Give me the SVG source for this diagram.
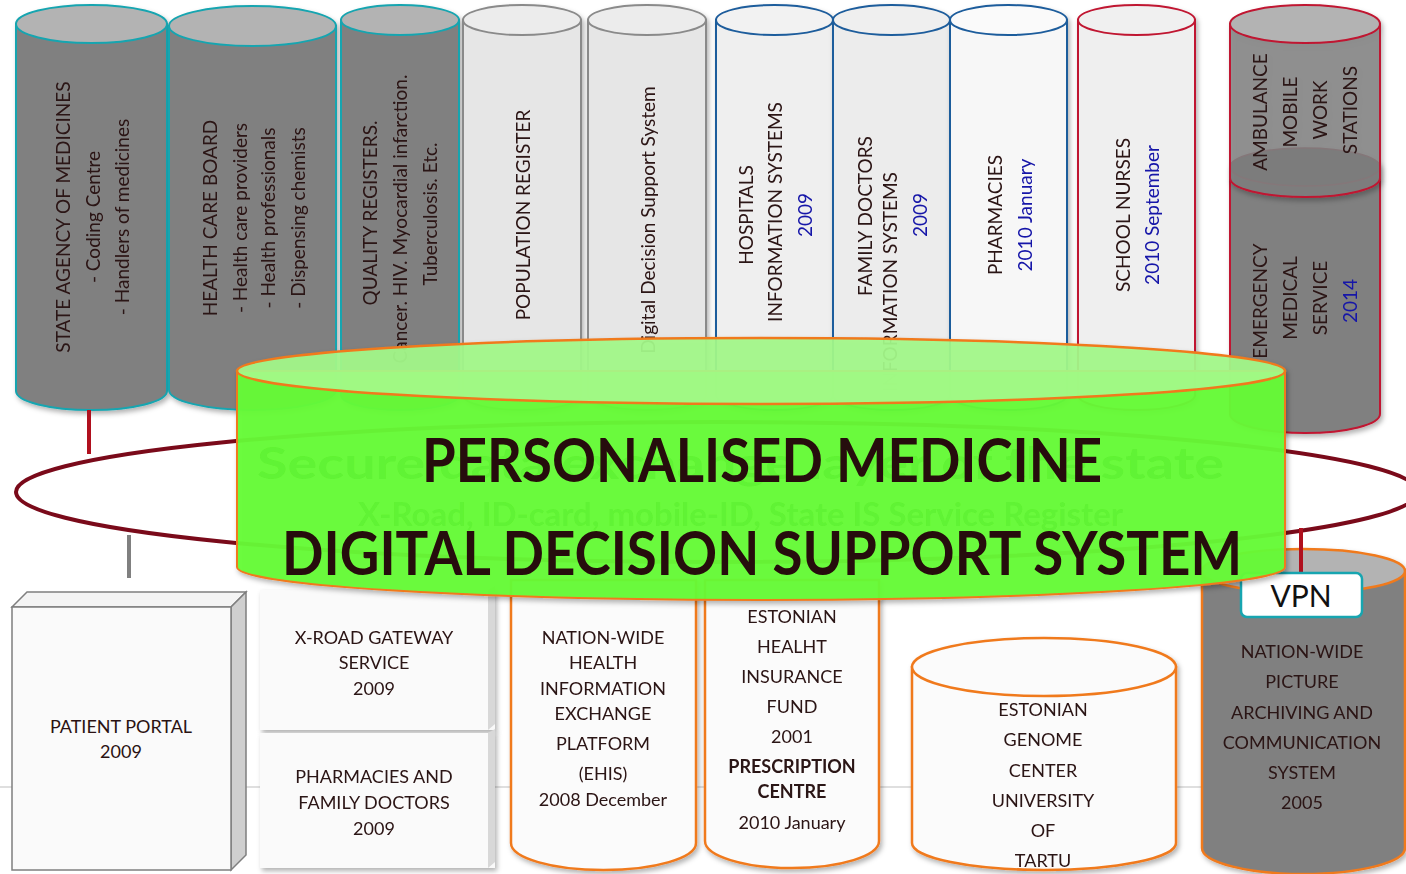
<svg xmlns="http://www.w3.org/2000/svg" width="1406" height="874" viewBox="0 0 1406 874">
<style>
text{font-family:Lato,"Open Sans","Liberation Sans",sans-serif;fill:#2a1212}
.v{font-size:19px;text-anchor:middle}
.b{font-size:18px;text-anchor:middle}
.blue{fill:#1414a8}
.dk{fill:#808080}
.dkt{fill:#b3b3b3}
.teal{stroke:#17a5b0;stroke-width:2}
.gry{stroke:#8a8a8a;stroke-width:2}
.blu{stroke:#1f5d9c;stroke-width:2}
.red{stroke:#c01630;stroke-width:2}
.org{stroke:#f07a1e;stroke-width:2.5}
.title{font-size:62px;font-weight:bold;text-anchor:middle;fill:#260c08}
.faint{font-weight:bold;fill:#60f334}
</style>
<defs>
<filter id="sh" x="-10%" y="-10%" width="120%" height="120%"><feDropShadow dx="2" dy="3" stdDeviation="2.5" flood-color="#000" flood-opacity="0.3"/></filter>
</defs>
<rect width="1406" height="874" fill="#fff"/>
<line x1="0" y1="787" x2="1406" y2="787" stroke="#d4d4d4" stroke-width="1.5"/>

<!-- top cylinders -->
<g id="state-agency" filter="url(#sh)">
<path class="dk teal" d="M16,24 L16,391 A75.5,19 0 0 0 167,391 L167,24 Z"/>
<ellipse class="dkt teal" cx="91.5" cy="24" rx="75.5" ry="19"/>
<text class="v" transform="translate(63,217) rotate(-90)" dy=".35em">STATE AGENCY OF MEDICINES</text>
<text class="v" transform="translate(93,217) rotate(-90)" dy=".35em">- Coding Centre</text>
<text class="v" transform="translate(122,217) rotate(-90)" dy=".35em">- Handlers of medicines</text>
</g>
<g id="health-care-board" filter="url(#sh)">
<path class="dk teal" d="M169,26 L169,390 A83.5,20 0 0 0 336,390 L336,26 Z"/>
<ellipse class="dkt teal" cx="252.5" cy="26" rx="83.5" ry="20"/>
<text class="v" transform="translate(210,218) rotate(-90)" dy=".35em">HEALTH CARE BOARD</text>
<text class="v" transform="translate(240,218) rotate(-90)" dy=".35em">- Health care providers</text>
<text class="v" transform="translate(268,218) rotate(-90)" dy=".35em">- Health professionals</text>
<text class="v" transform="translate(298,218) rotate(-90)" dy=".35em">- Dispensing chemists</text>
</g>
<g id="quality-registers" filter="url(#sh)">
<path class="dk teal" d="M341,20 L341,395 A59,15 0 0 0 459,395 L459,20 Z"/>
<ellipse class="dkt teal" cx="400" cy="20" rx="59" ry="15"/>
<text class="v" transform="translate(370,213) rotate(-90)" dy=".35em">QUALITY REGISTERS.</text>
<text class="v" transform="translate(400,219) rotate(-90)" dy=".35em">Cancer. HIV. Myocardial infarction.</text>
<text class="v" transform="translate(430,214) rotate(-90)" dy=".35em">Tuberculosis. Etc.</text>
</g>
<g id="population-register" filter="url(#sh)">
<path fill="#e6e6e6" class="gry" d="M463,20 L463,395 A59,15 0 0 0 581,395 L581,20 Z"/>
<ellipse fill="#ececec" class="gry" cx="522" cy="20" rx="59" ry="15"/>
<text class="v" transform="translate(523,215) rotate(-90)" dy=".35em">POPULATION REGISTER</text>
</g>
<g id="digital-dss" filter="url(#sh)">
<path fill="#e6e6e6" class="gry" d="M588,20 L588,395 A59,15 0 0 0 706,395 L706,20 Z"/>
<ellipse fill="#ececec" class="gry" cx="647" cy="20" rx="59" ry="15"/>
<text class="v" transform="translate(648,220) rotate(-90)" dy=".35em">Digital Decision Support System</text>
</g>
<g id="hospitals" filter="url(#sh)">
<path fill="#efefef" class="blu" d="M716,20 L716,395 A58.5,15 0 0 0 833,395 L833,20 Z"/>
<ellipse fill="#f2f2f2" class="blu" cx="774.5" cy="20" rx="58.5" ry="15"/>
<text class="v" transform="translate(746,215) rotate(-90)" dy=".35em">HOSPITALS</text>
<text class="v" transform="translate(775,212) rotate(-90)" dy=".35em">INFORMATION SYSTEMS</text>
<text class="v blue" transform="translate(805,215) rotate(-90)" dy=".35em">2009</text>
</g>
<g id="family-doctors" filter="url(#sh)">
<path fill="#ececec" class="blu" d="M833,20 L833,395 A58.5,15 0 0 0 950,395 L950,20 Z"/>
<ellipse fill="#efefef" class="blu" cx="891.5" cy="20" rx="58.5" ry="15"/>
<text class="v" transform="translate(865,216) rotate(-90)" dy=".35em">FAMILY DOCTORS</text>
<text class="v" transform="translate(890,282) rotate(-90)" dy=".35em">INFORMATION SYSTEMS</text>
<text class="v blue" transform="translate(920,215) rotate(-90)" dy=".35em">2009</text>
</g>
<g id="pharmacies" filter="url(#sh)">
<path fill="#f7f7f7" class="blu" d="M950,20 L950,395 A58.5,15 0 0 0 1067,395 L1067,20 Z"/>
<ellipse fill="#fafafa" class="blu" cx="1008.5" cy="20" rx="58.5" ry="15"/>
<text class="v" transform="translate(995,215) rotate(-90)" dy=".35em">PHARMACIES</text>
<text class="v blue" transform="translate(1025,215) rotate(-90)" dy=".35em">2010 January</text>
</g>
<g id="school-nurses" filter="url(#sh)">
<path fill="#efefef" class="red" d="M1078,20 L1078,395 A58.5,15 0 0 0 1195,395 L1195,20 Z"/>
<ellipse fill="#f0f0f0" class="red" cx="1136.5" cy="20" rx="58.5" ry="15"/>
<text class="v" transform="translate(1123,215) rotate(-90)" dy=".35em">SCHOOL NURSES</text>
<text class="v blue" transform="translate(1152,215) rotate(-90)" dy=".35em">2010 September</text>
</g>
<g id="emergency" filter="url(#sh)">
<path class="dk red" d="M1230,167 L1230,414 A75,19 0 0 0 1380,414 L1380,167 Z"/>
<ellipse fill="#747474" stroke="#b05060" stroke-width="1.5" cx="1305" cy="167" rx="75" ry="19"/>
<text class="v" transform="translate(1260,301) rotate(-90)" dy=".35em">EMERGENCY</text>
<text class="v" transform="translate(1290,298) rotate(-90)" dy=".35em">MEDICAL</text>
<text class="v" transform="translate(1320,298) rotate(-90)" dy=".35em">SERVICE</text>
<text class="v blue" transform="translate(1350,301) rotate(-90)" dy=".35em">2014</text>
</g>
<g id="ambulance" filter="url(#sh)">
<path class="dk red" fill-opacity="0.82" d="M1230,24 L1230,178 A75,19 0 0 0 1380,178 L1380,24 Z"/>
<ellipse class="dkt red" cx="1305" cy="24" rx="75" ry="19"/>
<text class="v" transform="translate(1260,112) rotate(-90)" dy=".35em">AMBULANCE</text>
<text class="v" transform="translate(1290,112) rotate(-90)" dy=".35em">MOBILE</text>
<text class="v" transform="translate(1320,110) rotate(-90)" dy=".35em">WORK</text>
<text class="v" transform="translate(1350,110) rotate(-90)" dy=".35em">STATIONS</text>
</g>

<!-- connectors -->
<g id="connectors" fill="none">
<line x1="89" y1="410" x2="89" y2="454" stroke="#b0101e" stroke-width="4"/>
<line x1="129" y1="535" x2="129" y2="578" stroke="#808080" stroke-width="4"/>
<ellipse cx="717" cy="492" rx="701" ry="70" stroke="#7a0a1a" stroke-width="4"/>
</g>

<!-- bottom nodes -->
<g id="patient-portal">
<polygon points="12,607 27,592 246,592 231,607" fill="#f4f4f4" stroke="#7f7f7f" stroke-width="1.5"/>
<polygon points="231,607 246,592 246,855 231,870" fill="#cfcfcf" stroke="#7f7f7f" stroke-width="1.5"/>
<rect x="12" y="607" width="219" height="263" fill="#fafafa" stroke="#7f7f7f" stroke-width="1.5"/>
<text class="b" x="121" y="733">PATIENT PORTAL</text>
<text class="b" x="121" y="758">2009</text>
</g>
<g id="xroad" filter="url(#sh)">
<rect x="260" y="590" width="235" height="140" fill="#fafafa"/>
<polygon points="488,590 495,586 495,724 488,730" fill="#d8d8d8"/>
<text class="b" x="374" y="644">X-ROAD GATEWAY</text>
<text class="b" x="374" y="669">SERVICE</text>
<text class="b" x="374" y="695">2009</text>
</g>
<g id="pharmacies-family" filter="url(#sh)">
<rect x="260" y="733" width="235" height="135" fill="#fafafa"/>
<polygon points="488,733 495,729 495,862 488,868" fill="#d8d8d8"/>
<text class="b" x="374" y="783">PHARMACIES AND</text>
<text class="b" x="374" y="809">FAMILY DOCTORS</text>
<text class="b" x="374" y="835">2009</text>
</g>
<g id="ehis" filter="url(#sh)">
<path fill="#fbfbfb" class="org" d="M511,580 L511,843 A92.5,27 0 0 0 696,843 L696,580 Z"/>
<text class="b" x="603" y="644">NATION-WIDE</text>
<text class="b" x="603" y="669">HEALTH</text>
<text class="b" x="603" y="695">INFORMATION</text>
<text class="b" x="603" y="720">EXCHANGE</text>
<text class="b" x="603" y="750">PLATFORM</text>
<text class="b" x="603" y="780">(EHIS)</text>
<text class="b" x="603" y="806">2008 December</text>
</g>
<g id="health-insurance-fund" filter="url(#sh)">
<path fill="#fbfbfb" class="org" d="M705,580 L705,841 A87,27 0 0 0 879,841 L879,580 Z"/>
<text class="b" x="792" y="623">ESTONIAN</text>
<text class="b" x="792" y="653">HEALHT</text>
<text class="b" x="792" y="683">INSURANCE</text>
<text class="b" x="792" y="713">FUND</text>
<text class="b" x="792" y="743">2001</text>
<text class="b" x="792" y="773" font-weight="bold">PRESCRIPTION</text>
<text class="b" x="792" y="798" font-weight="bold">CENTRE</text>
<text class="b" x="792" y="829">2010 January</text>
</g>
<g id="genome-center" filter="url(#sh)">
<path fill="#fbfbfb" class="org" d="M912,667 L912,843 A132,27 0 0 0 1176,843 L1176,667 Z"/>
<ellipse fill="#fbfbfb" class="org" cx="1044" cy="667" rx="132" ry="29"/>
<text class="b" x="1043" y="716">ESTONIAN</text>
<text class="b" x="1043" y="746">GENOME</text>
<text class="b" x="1043" y="777">CENTER</text>
<text class="b" x="1043" y="807">UNIVERSITY</text>
<text class="b" x="1043" y="837">OF</text>
<text class="b" x="1043" y="867">TARTU</text>
</g>
<g id="pacs" filter="url(#sh)">
<path class="dk org" d="M1202,571 L1202,848 A101.5,26 0 0 0 1405,848 L1405,571 Z"/>
<ellipse class="dkt org" cx="1303.5" cy="571" rx="101.5" ry="22"/>
<text class="b" x="1302" y="658">NATION-WIDE</text>
<text class="b" x="1302" y="688">PICTURE</text>
<text class="b" x="1302" y="719">ARCHIVING AND</text>
<text class="b" x="1302" y="749">COMMUNICATION</text>
<text class="b" x="1302" y="779">SYSTEM</text>
<text class="b" x="1302" y="809">2005</text>
</g>
<g id="vpn-connector">
<line x1="1301" y1="528" x2="1301" y2="572" stroke="#b0101e" stroke-width="4"/>
</g>
<g id="vpn">
<rect x="1241" y="573" width="121" height="44" rx="6" fill="#fff" stroke="#17a5b0" stroke-width="2.5"/>
<text x="1301" y="607" font-size="30" text-anchor="middle" style="fill:#111">VPN</text>
</g>

<!-- central green cylinder -->
<g id="pm-ddss" filter="url(#sh)">
<path d="M237,371 L237,567 A524,33 0 0 0 1285,567 L1285,371 Z" fill="#66fc36" fill-opacity="0.95" stroke="#f07a1e" stroke-width="2"/>
<ellipse cx="761" cy="371" rx="524" ry="33" fill="#a4f98a" fill-opacity="0.93" stroke="#f07a1e" stroke-width="2.5"/>
<text class="faint" x="257" y="479" font-size="44" textLength="967" lengthAdjust="spacingAndGlyphs">Secure data exchange layer of the state</text>
<text class="faint" x="358" y="526" font-size="32" textLength="765" lengthAdjust="spacingAndGlyphs">X-Road, ID-card, mobile-ID, State IS Service Register</text>
<text class="title" x="762" y="482" textLength="680" lengthAdjust="spacingAndGlyphs">PERSONALISED MEDICINE</text>
<text class="title" x="762" y="575" textLength="960" lengthAdjust="spacingAndGlyphs">DIGITAL DECISION SUPPORT SYSTEM</text>
</g>
</svg>
